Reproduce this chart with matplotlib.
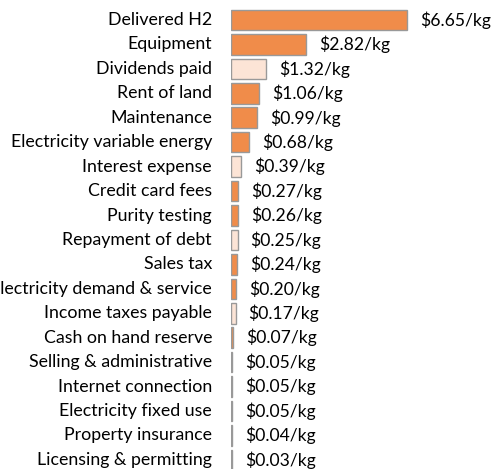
import matplotlib
matplotlib.use("Agg")
import matplotlib.pyplot as plt

categories = ["Delivered H2", "Equipment", "Dividends paid", "Rent of land", "Maintenance",
              "Electricity variable energy", "Interest expense", "Credit card fees", "Purity testing",
              "Repayment of debt", "Sales tax", "Electricity demand & service", "Income taxes payable",
              "Cash on hand reserve", "Selling & administrative", "Internet connection",
              "Electricity fixed use", "Property insurance", "Licensing & permitting"]
values = [6.65, 2.82, 1.32, 1.06, 0.99, 0.68, 0.39, 0.27, 0.26, 0.25, 0.24, 0.20, 0.17, 0.07,
          0.05, 0.05, 0.05, 0.04, 0.03]
kinds = ["o", "o", "l", "o", "o", "o", "l", "o", "o", "l", "o", "o", "l", "o", "o", "o", "o", "o", "o"]

ORANGE = "#F08C4A"
LIGHT = "#FCE4D6"
EDGE = "#999999"

plt.rcParams['font.family'] = ['Lato', 'DejaVu Sans']

W, H, DPI = 492, 469, 100
fig = plt.figure(figsize=(W / DPI, H / DPI), dpi=DPI)
x0 = 231
unit = 26.5
top_c = 20
spacing = 24.44
ax = fig.add_axes([x0 / W, 0, 1 - x0 / W, 1])
ax.set_xlim(0, (W - x0) / unit)
n = len(categories)
ax.set_ylim(n - 1 + (H - top_c - (n - 1) * spacing) / spacing, -top_c / spacing)
ax.axis("off")

colors = [ORANGE if k == "o" else LIGHT for k in kinds]
ax.barh(range(n), values, height=0.84, color=colors, edgecolor=EDGE, linewidth=1.0)

for i, (c, v) in enumerate(zip(categories, values)):
    ax.text(-19 / unit, i, c, ha="right", va="center", fontsize=12.8, color="#000000", clip_on=False)
    ax.text(v + 13 / unit, i, f"${v:.2f}/kg", ha="left", va="center", fontsize=12.6, color="#000000", clip_on=False)

fig.savefig("out.png", dpi=DPI)
